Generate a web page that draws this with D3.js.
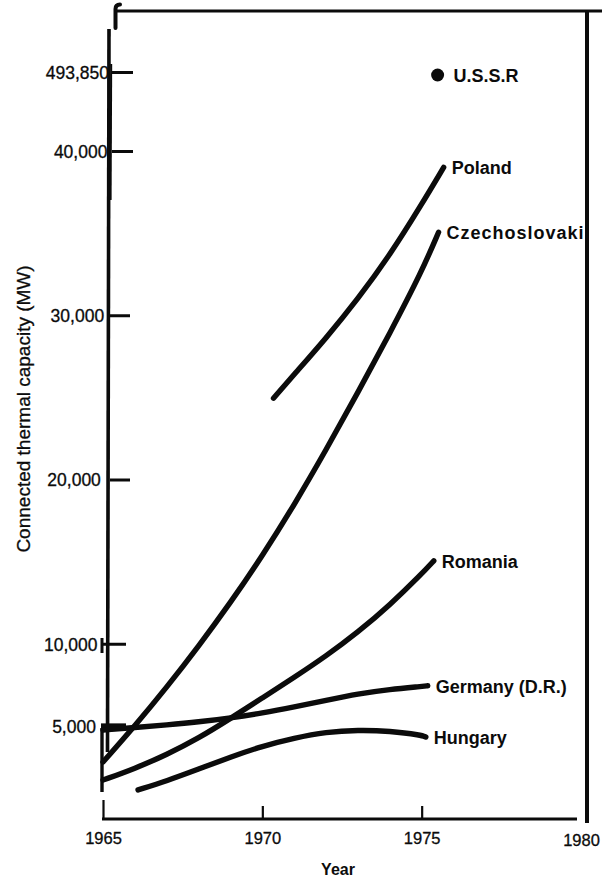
<!DOCTYPE html>
<html>
<head>
<meta charset="utf-8">
<script src="https://cdn.jsdelivr.net/npm/d3@7/dist/d3.min.js"></script>
<style>
  html, body { margin: 0; padding: 0; background: #fff; }
  svg { display: block; font-family: "Liberation Sans", Arial, Helvetica, sans-serif; }
</style>
</head>
<body>
<svg id="chart" width="602" height="879"></svg>
<script>
// ---- data ----
const xTickYears = [1965, 1970, 1975, 1980];
const yTickValues = [5000, 10000, 20000, 30000, 40000, 493850];

const seriesNames = ["Poland", "Czechoslovakia", "Romania", "Germany (D.R.)", "Hungary"];

const polandYears  = [1970.35, 1971, 1972, 1973, 1974, 1975, 1975.69];
const polandValues = [24950, 26400, 28600, 31000, 33650, 36750, 39000];

const czechYears  = [1965, 1966, 1967, 1968, 1969, 1970, 1971, 1972, 1973, 1974, 1975, 1975.53];
const czechValues = [2800, 5000, 7350, 9850, 12500, 15350, 18450, 21800, 25300, 28900, 32650, 35050];

const romaniaYears  = [1965, 1966, 1967, 1968, 1969, 1970, 1971, 1972, 1973, 1974, 1975, 1975.38];
const romaniaValues = [1700, 2400, 3250, 4250, 5450, 6700, 7950, 9250, 10700, 12350, 14250, 15050];

const germanyYears  = [1965, 1966, 1967, 1968, 1969, 1970, 1971, 1972, 1973, 1974, 1975, 1975.19];
const germanyValues = [4750, 4900, 5060, 5240, 5480, 5780, 6150, 6550, 6950, 7220, 7400, 7440];

const hungaryYears  = [1966.1, 1967, 1968, 1969, 1970, 1971, 1972, 1973, 1974, 1975, 1975.13];
const hungaryValues = [1100, 1650, 2370, 3100, 3770, 4260, 4630, 4750, 4690, 4440, 4320];

const ussrYear = 1975.5;
const ussrValue = 493850;

const seriesYears  = [polandYears, czechYears, romaniaYears, germanyYears, hungaryYears];
const seriesValues = [polandValues, czechValues, romaniaValues, germanyValues, hungaryValues];

// ---- layout ----
const svg = d3.select("#chart");
const ink = "#0b0b0b";

const x = d3.scaleLinear().domain([1965, 1980]).range([103, 581]);
// broken value axis: linear up to 40,000, then a jump to the U.S.S.R. total
const y = d3.scaleLinear().domain([0, 40000, 493850]).range([808, 151, 72]);

const axisX0 = 111;   // where the value-axis ticks start
const axisY0 = 819;   // baseline of the year axis

// ---- frame ----
const frame = svg.append("g").attr("fill", "none").attr("stroke", ink).attr("stroke-linecap", "round");
// top rule with a hooked left end
frame.append("line").attr("x1", 117).attr("x2", 602).attr("y1", 11).attr("y2", 11).attr("stroke-width", 3);
frame.append("path").attr("d", "M115.5,28 L115.5,9 Q115.5,4.5 120,4.5").attr("stroke-width", 4);
// right rule
frame.append("line").attr("x1", 587).attr("x2", 587).attr("y1", 11).attr("y2", 823)
  .attr("stroke-width", 4).attr("stroke-linecap", "butt");
// value axis (upper long stroke, its doubled upper part, and the short lower stroke)
frame.append("line").attr("x1", 109).attr("x2", 107.5).attr("y1", 29).attr("y2", 752)
  .attr("stroke-width", 3.6).attr("stroke-linecap", "butt");
frame.append("line").attr("x1", 111.2).attr("x2", 110.6).attr("y1", 64).attr("y2", 200)
  .attr("stroke-width", 2).attr("stroke-linecap", "butt");
frame.append("line").attr("x1", 102).attr("x2", 102).attr("y1", 728).attr("y2", 792)
  .attr("stroke-width", 3.4).attr("stroke-linecap", "butt");
frame.append("line").attr("x1", 102).attr("x2", 102).attr("y1", 638).attr("y2", 653)
  .attr("stroke-width", 3).attr("stroke-linecap", "butt");

// ---- value axis ----
const yAxis = d3.axisLeft(y)
  .tickValues(yTickValues)
  .tickFormat(d3.format(","))
  .tickSizeInner(-22)
  .tickSizeOuter(0)
  .tickPadding(2);

const gy = svg.append("g").attr("transform", `translate(${axisX0},0)`).call(yAxis);
gy.select(".domain").remove();
gy.selectAll(".tick line")
  .attr("stroke", ink)
  .attr("stroke-width", d => d === 5000 ? 6 : 3)
  .attr("x1", d => d <= 10000 ? -10 : (d <= 30000 ? -1 : 1))
  .attr("x2", d => d <= 10000 ? 15 : (d <= 30000 ? 19 : 22));
gy.selectAll(".tick text")
  .attr("fill", ink)
  .attr("stroke", ink)
  .attr("stroke-width", 0.3)
  .attr("font-size", 17.5)
  .attr("font-family", "Liberation Sans, Arial, sans-serif")
  .attr("x", d => -(2 + (y(d) - y(493850)) * 0.02))
  .attr("dy", "0.36em");

// y-axis title
svg.append("text")
  .attr("transform", "translate(30,409) rotate(-90)")
  .attr("text-anchor", "middle")
  .attr("font-size", 19)
  .attr("fill", ink)
  .attr("stroke", ink)
  .attr("stroke-width", 0.3)
  .text("Connected thermal capacity (MW)");

// ---- year axis ----
const xAxis = d3.axisBottom(x)
  .tickValues(xTickYears)
  .tickFormat(d3.format("d"))
  .tickSizeInner(-13)
  .tickSizeOuter(0)
  .tickPadding(10);

const gx = svg.append("g").attr("transform", `translate(0,${axisY0})`).call(xAxis);
gx.select(".domain").remove();
gx.append("line")
  .attr("x1", x(1965) - 1).attr("x2", 577)
  .attr("stroke", ink).attr("stroke-width", 3.2);
gx.selectAll(".tick line")
  .attr("stroke", ink)
  .attr("stroke-width", 2.2)
  .attr("y2", d => d === 1965 ? -19 : (d === 1980 ? 0 : -13));
gx.selectAll(".tick text")
  .attr("fill", ink)
  .attr("stroke", ink)
  .attr("stroke-width", 0.3)
  .attr("font-size", 16.5)
  .attr("font-family", "Liberation Sans, Arial, sans-serif")
  .attr("dy", d => d === 1980 ? "1.05em" : "0.9em");

svg.append("text")
  .attr("x", 338).attr("y", 875)
  .attr("text-anchor", "middle")
  .attr("font-size", 16)
  .attr("font-weight", "bold")
  .attr("fill", ink)
  .text("Year");

// ---- series ----
const clip = svg.append("clipPath").attr("id", "plot-clip");
clip.append("rect").attr("x", 0).attr("y", 0).attr("width", 583).attr("height", 879);

const line = d3.line()
  .x(d => x(d[0]))
  .y(d => y(d[1]))
  .curve(d3.curveBasis);

// slightly wider lettering on the long end label, which runs into the right rule
const labelSpacing = [0, 1.0, 0, 0, 0];

const gSeries = svg.append("g").attr("clip-path", "url(#plot-clip)");

seriesNames.forEach((name, i) => {
  const pts = seriesYears[i].map((yr, j) => [yr, seriesValues[i][j]]);
  gSeries.append("path")
    .datum(pts)
    .attr("d", line)
    .attr("fill", "none")
    .attr("stroke", ink)
    .attr("stroke-width", 5.4)
    .attr("stroke-linecap", "round")
    .attr("stroke-linejoin", "round");
  const last = pts[pts.length - 1];
  gSeries.append("text")
    .attr("x", x(last[0]) + 8)
    .attr("y", y(last[1]) + 7)
    .attr("font-size", 18)
    .attr("font-weight", "bold")
    .attr("letter-spacing", labelSpacing[i])
    .attr("fill", ink)
    .text(name);
});

// U.S.S.R. single point
gSeries.append("circle")
  .attr("cx", x(ussrYear))
  .attr("cy", y(ussrValue) + 3)
  .attr("r", 6.5)
  .attr("fill", ink);
gSeries.append("text")
  .attr("x", x(ussrYear) + 16)
  .attr("y", y(ussrValue) + 10)
  .attr("font-size", 18)
  .attr("font-weight", "bold")
  .attr("fill", ink)
  .text("U.S.S.R");
</script>
</body>
</html>
